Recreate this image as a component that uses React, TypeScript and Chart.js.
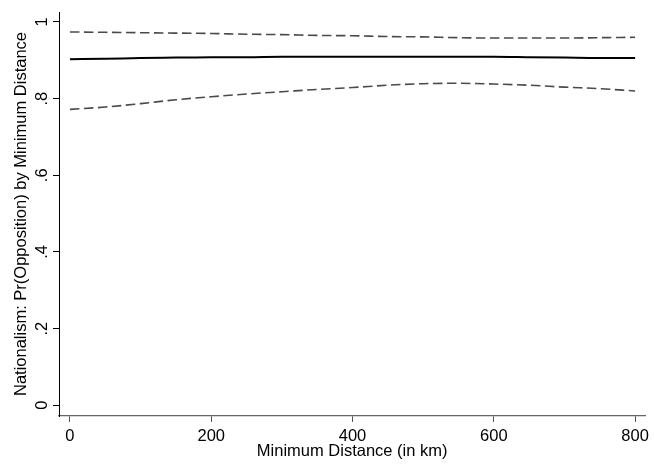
import React, { useEffect, useRef } from "react";
import { Chart, registerables } from "chart.js";

Chart.register(...registerables);

const distances = [0, 50, 100, 150, 200, 250, 300, 350, 400, 450, 500, 550, 600, 650, 700, 750, 800];
const estimate = [0.903, 0.904, 0.906, 0.907, 0.908, 0.908, 0.909, 0.909, 0.909, 0.909, 0.909, 0.909, 0.909, 0.908, 0.907, 0.906, 0.906];
const upperCI = [0.974, 0.973, 0.972, 0.971, 0.970, 0.968, 0.967, 0.965, 0.964, 0.962, 0.961, 0.959, 0.958, 0.958, 0.958, 0.959, 0.960];
const lowerCI = [0.772, 0.778, 0.787, 0.797, 0.805, 0.812, 0.818, 0.824, 0.829, 0.835, 0.839, 0.840, 0.838, 0.835, 0.830, 0.826, 0.820];

const xTicks = [0, 200, 400, 600, 800];
const yTicks = [0, 0.2, 0.4, 0.6, 0.8, 1];
const yTickLabels = ["0", ".2", ".4", ".6", ".8", "1"];

const xTitle = "Minimum Distance (in km)";
const yTitle = "Nationalism: Pr(Opposition) by Minimum Distance";

const FONT = "'Liberation Sans', Arial, sans-serif";

export default function App() {
  const ref = useRef<HTMLCanvasElement | null>(null);

  useEffect(() => {
    if (!ref.current) return;
    const toPts = (arr: number[]) => distances.map((d, i) => ({ x: d, y: arr[i] }));

    const yLabelPlugin = {
      id: "yLabels",
      afterDraw(chart: any) {
        const ctx = chart.ctx;
        const ys = chart.scales.y;
        ctx.save();
        ctx.fillStyle = "#000";
        ctx.font = `16.5px ${FONT}`;
        ctx.textAlign = "center";
        ctx.textBaseline = "alphabetic";
        yTicks.forEach((v, i) => {
          const py = ys.getPixelForValue(v);
          ctx.save();
          ctx.translate(ys.right - 12.5, py);
          ctx.rotate(-Math.PI / 2);
          ctx.fillText(yTickLabels[i], 0, 0);
          ctx.restore();
        });
        ctx.restore();
      },
    };

    const chart = new Chart(ref.current, {
      type: "line",
      data: {
        datasets: [
          {
            data: toPts(upperCI),
            borderColor: "#4a4a4a",
            borderWidth: 1.6,
            borderDash: [9.5, 4.5],
            pointRadius: 0,
            fill: false,
            cubicInterpolationMode: "monotone",
          },
          {
            data: toPts(estimate),
            borderColor: "#000",
            borderWidth: 2,
            pointRadius: 0,
            fill: false,
            cubicInterpolationMode: "monotone",
          },
          {
            data: toPts(lowerCI),
            borderColor: "#4a4a4a",
            borderWidth: 1.6,
            borderDash: [9.5, 4.5],
            pointRadius: 0,
            fill: false,
            cubicInterpolationMode: "monotone",
          },
        ],
      },
      options: {
        animation: false,
        responsive: true,
        maintainAspectRatio: false,
        layout: { padding: { top: 12, right: 7, left: 0, bottom: 0 } },
        plugins: { legend: { display: false }, tooltip: { enabled: false } },
        scales: {
          x: {
            type: "linear",
            min: -15.5,
            max: 814.5,
            afterBuildTicks: (s: any) => {
              s.ticks = xTicks.map((v) => ({ value: v }));
            },
            afterFit: (s: any) => {
              s.height = 54;
            },
            grid: { drawOnChartArea: false, drawTicks: true, tickLength: 6, color: "#555" },
            border: { display: true, color: "#666", width: 1.3 },
            ticks: {
              color: "#000",
              font: { family: FONT, size: 16.5 },
              padding: 5,
              maxRotation: 0,
              autoSkip: false,
            },
            title: {
              display: true,
              text: xTitle,
              color: "#000",
              font: { family: FONT, size: 16.5 },
              padding: { top: 0, bottom: 9 },
            },
          },
          y: {
            type: "linear",
            min: -0.028,
            max: 1.026,
            afterBuildTicks: (s: any) => {
              s.ticks = yTicks.map((v) => ({ value: v }));
            },
            afterFit: (s: any) => {
              s.width = 59;
            },
            grid: { drawOnChartArea: false, drawTicks: true, tickLength: 6, color: "#000" },
            border: { display: true, color: "#000", width: 1 },
            ticks: { display: false },
            title: {
              display: true,
              text: yTitle,
              color: "#000",
              font: { family: FONT, size: 16.5 },
              padding: { top: 12, bottom: 0 },
            },
          },
        },
      },
      plugins: [yLabelPlugin],
    } as any);

    return () => chart.destroy();
  }, []);

  return (
    <div style={{ position: "fixed", left: 0, top: 0, width: 654, height: 470, background: "#fff" }}>
      <canvas ref={ref} />
    </div>
  );
}
